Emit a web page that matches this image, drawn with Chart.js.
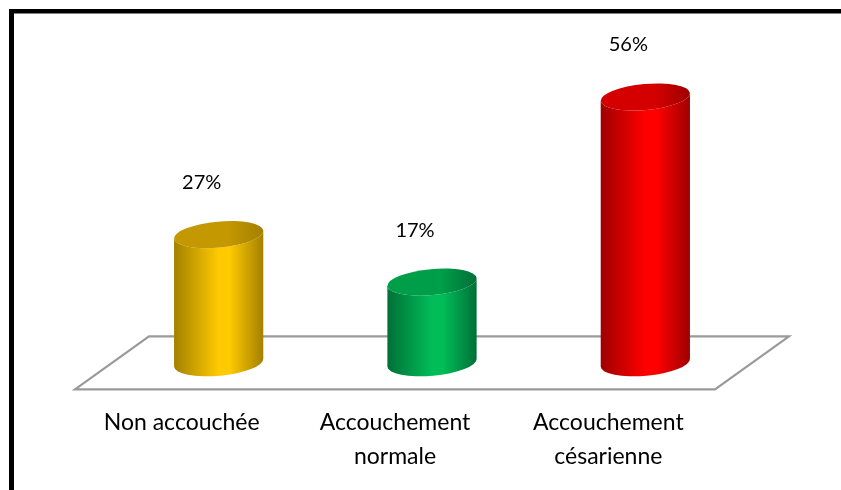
<!DOCTYPE html>
<html>
<head>
<meta charset="utf-8">
<script src="https://cdn.jsdelivr.net/npm/chart.js@4"></script>
<style>
  html, body { margin: 0; padding: 0; background: #fff; }
  #wrap { position: relative; width: 841px; height: 490px; }
</style>
</head>
<body>
<div id="wrap"><canvas id="accouchementChart"></canvas></div>
<script>
// Data
const categories = [['Non accouchée'], ['Accouchement', 'normale'], ['Accouchement', 'césarienne']];
const percentages = [27, 17, 56];
const valueLabels = ['27%', '17%', '56%'];

// Colours for each cylinder: [edge, light, top]
const barColors = [
    ['#a38000', '#ffca00', '#c49800'],
    ['#006f37', '#00bd58', '#009e49'],
    ['#9e0000', '#ff0000', '#d40000']
];

const depthX = 74;   // floor depth, horizontal
const depthY = 53;   // floor depth, vertical
const tilt = -0.09;  // ellipse rotation

function drawCylinder(ctx, cx, yTop, yBot, rx, ry, colors) {
    const grad = ctx.createLinearGradient(cx - rx, 0, cx + rx, 0);
    grad.addColorStop(0, colors[0]);
    grad.addColorStop(0.5, colors[1]);
    grad.addColorStop(0.62, colors[1]);
    grad.addColorStop(1, colors[0]);

    const dxr = rx * Math.cos(tilt), dyr = rx * Math.sin(tilt);
    ctx.beginPath();
    ctx.moveTo(cx - dxr, yTop - dyr);
    ctx.lineTo(cx - dxr, yBot - dyr);
    ctx.ellipse(cx, yBot, rx, ry, tilt, Math.PI, 0, true);
    ctx.lineTo(cx + dxr, yTop + dyr);
    ctx.ellipse(cx, yTop, rx, ry, tilt, 0, Math.PI, false);
    ctx.closePath();
    ctx.fillStyle = grad;
    ctx.fill();

    // top face
    const topGrad = ctx.createLinearGradient(cx - rx, 0, cx + rx, 0);
    topGrad.addColorStop(0, colors[2]);
    topGrad.addColorStop(0.6, colors[2]);
    topGrad.addColorStop(1, colors[0]);
    ctx.beginPath();
    ctx.ellipse(cx, yTop, rx, ry, tilt, 0, Math.PI * 2);
    ctx.fillStyle = topGrad;
    ctx.fill();
}

const cylinderPlugin = {
    id: 'cylinders',
    beforeDraw(chart) {
        const ctx = chart.ctx;
        ctx.save();
        ctx.fillStyle = '#000';
        ctx.fillRect(9, 9, chart.width - 9, 4.5);
        ctx.fillRect(9, 9, 5, chart.height - 9);
        ctx.restore();
    },
    beforeDatasetsDraw(chart) {
        const { ctx, chartArea } = chart;
        const l = chartArea.left, r = chartArea.right, b = chartArea.bottom;
        ctx.save();
        ctx.beginPath();
        ctx.moveTo(l, b);
        ctx.lineTo(r, b);
        ctx.lineTo(r + depthX, b - depthY);
        ctx.lineTo(l + depthX, b - depthY);
        ctx.closePath();
        ctx.fillStyle = '#fff';
        ctx.fill();
        ctx.strokeStyle = '#9a9a9a';
        ctx.lineWidth = 2.2;
        ctx.stroke();
        ctx.restore();
    },
    afterDatasetsDraw(chart) {
        const ctx = chart.ctx;
        const meta = chart.getDatasetMeta(0);
        ctx.save();
        meta.data.forEach((bar, i) => {
            const rx = bar.width / 2;
            const ry = 13;
            const cx = bar.x + depthX / 2;
            const yTop = bar.y - depthY / 2;
            const yBot = bar.base - depthY / 2;
            drawCylinder(ctx, cx, yTop, yBot, rx, ry, barColors[i]);

            ctx.fillStyle = '#000';
            ctx.font = '20px Lato';
            ctx.textAlign = 'center';
            ctx.textBaseline = 'middle';
            ctx.fillText(valueLabels[i], bar.x + 20, yTop - 52);
        });
        ctx.restore();
    }
};

const ctx = document.getElementById('accouchementChart').getContext('2d');
new Chart(ctx, {
    type: 'bar',
    data: {
        labels: categories,
        datasets: [{
            data: percentages,
            backgroundColor: 'rgba(0,0,0,0)',
            borderWidth: 0,
            barPercentage: 0.42,
            categoryPercentage: 1
        }]
    },
    options: {
        responsive: true,
        maintainAspectRatio: false,
        animation: false,
        layout: { padding: { left: 75, right: 126, top: 57, bottom: 0 } },
        plugins: {
            legend: { display: false },
            tooltip: { enabled: false }
        },
        scales: {
            x: {
                grid: { display: false, drawTicks: false },
                border: { display: false },
                ticks: {
                    color: '#000',
                    padding: 17,
                    font: { family: 'Lato', size: 23, lineHeight: 1.45 }
                }
            },
            y: {
                display: false,
                min: 0,
                max: 70
            }
        }
    },
    plugins: [cylinderPlugin]
});
</script>
</body>
</html>
